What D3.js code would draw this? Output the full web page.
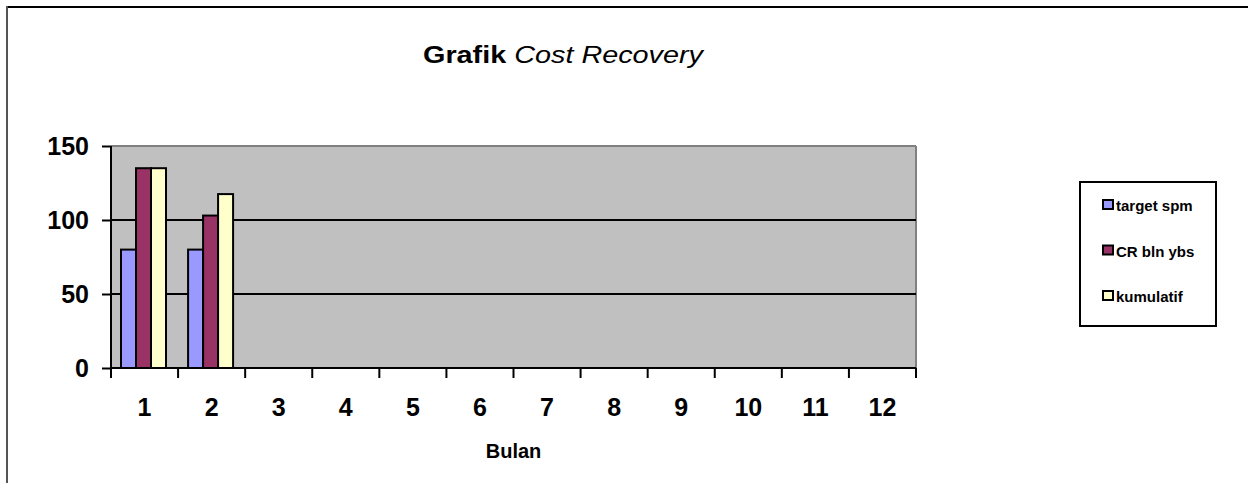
<!DOCTYPE html>
<html>
<head>
<meta charset="utf-8">
<script src="https://d3js.org/d3.v7.min.js"></script>
<style>
  body { margin: 0; background: #fff; }
  svg { display: block; font-family: "Liberation Sans", Arial, sans-serif; }
</style>
</head>
<body>
<svg width="1248" height="483"></svg>
<script>
var months = ["1", "2", "3", "4", "5", "6", "7", "8", "9", "10", "11", "12"];
var seriesNames = ["target spm", "CR bln ybs", "kumulatif"];
var targetSpm = [80, 80];
var crBlnYbs = [135, 103];
var kumulatif = [135, 117.5];
var yTicks = [0, 50, 100, 150];
var colors = ["#9999FF", "#993366", "#FFFFCC"];

var svg = d3.select("svg");
var margin = {top: 146, left: 111, right: 332, bottom: 115};
var width = 1248 - margin.left - margin.right;
var height = 483 - margin.top - margin.bottom;
var font = "'Liberation Sans', Arial, sans-serif";

// outer chart frame
svg.append("line").attr("x1", 6).attr("x2", 1248).attr("y1", 7).attr("y2", 7)
  .attr("stroke", "#000").attr("stroke-width", 2);
svg.append("line").attr("x1", 7).attr("x2", 7).attr("y1", 6).attr("y2", 483)
  .attr("stroke", "#555").attr("stroke-width", 2);

var title = svg.append("text")
  .attr("x", 423).attr("y", 63)
  .attr("textLength", 280)
  .attr("lengthAdjust", "spacingAndGlyphs")
  .style("font-size", "24px");
title.append("tspan").style("font-weight", "bold").text("Grafik ");
title.append("tspan").style("font-style", "italic").text("Cost Recovery");

var x = d3.scaleBand().domain(months).range([0, width]);
var x1 = d3.scaleBand().domain(seriesNames).range([0, 45]);
var y = d3.scaleLinear().domain([0, 150]).range([height, 0]);

var g = svg.append("g")
  .attr("transform", "translate(" + margin.left + "," + margin.top + ")");

g.append("rect").attr("width", width).attr("height", height).attr("fill", "#C0C0C0");
g.append("line").attr("x1", 0).attr("x2", width).attr("y1", 0).attr("y2", 0)
  .attr("stroke", "#808080").attr("stroke-width", 2);
g.append("line").attr("x1", width).attr("x2", width).attr("y1", 0).attr("y2", height)
  .attr("stroke", "#808080").attr("stroke-width", 2);

g.selectAll(".grid")
  .data(yTicks.filter(function(d) { return d > 0 && d < 150; }))
  .enter().append("line")
  .attr("x1", 0).attr("x2", width)
  .attr("y1", function(d) { return y(d); })
  .attr("y2", function(d) { return y(d); })
  .attr("stroke", "#000").attr("stroke-width", 2);

var data = [];
[targetSpm, crBlnYbs, kumulatif].forEach(function(vals, s) {
  vals.forEach(function(v, i) {
    data.push({month: months[i], series: seriesNames[s], value: v, color: colors[s]});
  });
});

g.selectAll(".bar")
  .data(data)
  .enter().append("rect")
  .attr("class", "bar")
  .attr("x", function(d) { return x(d.month) + 10 + x1(d.series); })
  .attr("y", function(d) { return y(d.value); })
  .attr("width", x1.bandwidth())
  .attr("height", function(d) { return height - y(d.value); })
  .attr("fill", function(d) { return d.color; })
  .attr("stroke", "#000")
  .attr("stroke-width", 2);

// y axis
var yAxis = g.append("g")
  .call(d3.axisLeft(y).tickValues(yTicks).tickSize(9).tickPadding(13));
yAxis.select(".domain").attr("stroke-width", 2).attr("d", "M0," + (height + 10) + "V0");
yAxis.selectAll(".tick line").attr("stroke-width", 2);
yAxis.selectAll("text")
  .style("font-size", "25px").style("font-weight", "bold")
  .style("font-family", font)
  .attr("fill", "#000");

// x axis
var xAxis = g.append("g")
  .attr("transform", "translate(0," + height + ")")
  .call(d3.axisBottom(x).tickSize(0).tickPadding(30));
xAxis.select(".domain").attr("stroke-width", 2).attr("d", "M0,0H" + width);
xAxis.selectAll("text")
  .style("font-size", "25px").style("font-weight", "bold")
  .style("font-family", font)
  .attr("fill", "#000");
xAxis.selectAll(".xtick")
  .data(d3.range(months.length + 1))
  .enter().append("line")
  .attr("x1", function(i) { return i * x.step(); })
  .attr("x2", function(i) { return i * x.step(); })
  .attr("y1", 0).attr("y2", 10)
  .attr("stroke", "#000").attr("stroke-width", 2);

svg.append("text")
  .attr("x", margin.left + width / 2).attr("y", 458)
  .attr("text-anchor", "middle")
  .style("font-size", "20px").style("font-weight", "bold")
  .text("Bulan");

// legend
var legend = svg.append("g").attr("transform", "translate(1080,182)");
legend.append("rect").attr("width", 136).attr("height", 144)
  .attr("fill", "#fff").attr("stroke", "#000").attr("stroke-width", 2);
var items = legend.selectAll(".item")
  .data(seriesNames)
  .enter().append("g")
  .attr("transform", function(d, i) { return "translate(0," + (23 + i * 45.5) + ")"; });
items.append("rect")
  .attr("x", 23).attr("y", -5).attr("width", 10).attr("height", 9)
  .attr("fill", function(d, i) { return colors[i]; })
  .attr("stroke", "#000").attr("stroke-width", 2);
items.append("text")
  .attr("x", 36).attr("y", 6)
  .style("font-size", "15px").style("font-weight", "bold")
  .text(function(d) { return d; });
</script>
</body>
</html>
